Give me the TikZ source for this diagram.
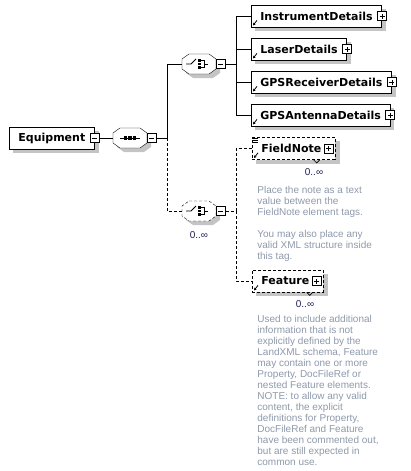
\documentclass[tikz,border=0pt]{standalone}
\usepackage{fontspec}
\setmainfont{Liberation Sans}
\newfontfamily\namefont{DejaVu Sans}
\usepackage{tikz}
\usetikzlibrary{positioning, calc, arrows.meta, backgrounds}
\usepackage{xcolor}
\definecolor{ShadowGray}{HTML}{C4C4C4}
\definecolor{NoteGray}{HTML}{8E99AA}
\definecolor{OccursNavy}{HTML}{1E1E5A}

\begin{document}
\begin{tikzpicture}[
  x=1pt, y=-1pt, line width=0.8pt,
  elem/.style={
    draw, fill=white, anchor=west, minimum height=22pt, inner xsep=9pt,
    font=\namefont\bfseries\fontsize{11}{13}\selectfont
  },
  optelem/.style={elem, dash pattern=on 3pt off 2pt, execute at end node={\hspace*{5pt}}},
  compo/.style={minimum width=34pt, minimum height=20pt, inner sep=0pt, outer sep=0pt},
  seqmark/.style={path picture={
    \begin{scope}[shift={(path picture bounding box.center)}, solid]
      \draw (-10,0) -- (10,0);
      \foreach \dx in {-4.5,0,4.5} \fill (\dx-1.7,-1.7) rectangle (\dx+1.7,1.7);
    \end{scope}}
  },
  choicemark/.style={path picture={
    \begin{scope}[shift={(path picture bounding box.center)}, solid]
      \draw (-13,0) -- (-8,0) -- (-3,-5);
      \foreach \dy in {-3.5,0,3.5} \fill (-1,\dy-1.3) rectangle (1.6,\dy+1.3);
      \draw (1.6,-3.5) -- (5,-3.5) -- (5,3.5) -- (1.6,3.5) (5,0) -- (9,0);
    \end{scope}}
  },
  xbox/.style={draw, fill=white, solid, minimum size=9pt, inner sep=0pt},
  minus/.style={xbox, path picture={
    \draw[line width=0.7pt] ([xshift=2pt]path picture bounding box.west) -- ([xshift=-2pt]path picture bounding box.east);}
  },
  plus/.style={xbox, path picture={
    \draw[line width=0.7pt] ([xshift=2pt]path picture bounding box.west) -- ([xshift=-2pt]path picture bounding box.east)
      ([yshift=2pt]path picture bounding box.south) -- ([yshift=-2pt]path picture bounding box.north);}
  },
  opt/.style={dash pattern=on 3pt off 2pt},
  refarrow/.style={-{Stealth[length=2.5pt, width=3pt]}, line width=0.8pt, solid},
  occurs/.style={font=\fontsize{10}{11}\selectfont, text=OccursNavy, inner sep=0pt},
  note/.style={font=\fontsize{10}{11}\selectfont, text=NoteGray, align=left, anchor=north west, inner sep=0pt}
]
  \useasboundingbox (0,0) rectangle (411,471);

  % Root and sequence
  \node[elem] (equip) at (9,138) {Equipment};
  \node[minus] (equip-x) at (equip.east) {};
  \node[compo, seqmark] (seq) at (130,138) {};
  \node[minus, right=0pt of seq] (seq-x) {};
  \coordinate (j1) at (167,138);

  % Choices
  \node[compo, choicemark] (ch1) at (199,64) {};
  \node[minus, right=0pt of ch1] (ch1-x) {};
  \coordinate (j2) at (236,64);
  \node[compo, choicemark] (ch2) at (199,211) {};
  \node[minus, right=0pt of ch2] (ch2-x) {};
  \node[occurs, below=10pt of ch2] (ch2-n) {0..∞};
  \coordinate (j3) at (236,211);

  % Child elements
  \node[elem] (instr) at (251,16) {InstrumentDetails};
  \node[elem] (laser) at (251,49) {LaserDetails};
  \node[elem] (gpsrx) at (251,82) {GPSReceiverDetails};
  \node[elem] (gpsant) at (251,115) {GPSAntennaDetails};
  \foreach \n in {instr,laser,gpsrx,gpsant}
    \node[plus] (\n-x) at (\n.east) {};

  \node[optelem] (fnote) at (252,148.5) {FieldNote};
  \node[plus, left=2pt of fnote.east] (fnote-x) {};
  \node[occurs] (fnote-n) at (314,172) {0..∞};
  \node[note] (fnote-doc) at (257,185.5) {Place the note as a text\\value between the\\FieldNote element tags.\\[11pt]You may also place any\\valid XML structure inside\\this tag.};

  \node[optelem] (feat) at (252,281) {Feature};
  \node[plus, left=2pt of feat.east] (feat-x) {};
  \node[occurs] (feat-n) at (305,304) {0..∞};
  \node[note] (feat-doc) at (257,314.5) {Used to include additional\\information that is not\\explicitly defined by the\\LandXML schema, Feature\\may contain one or more\\Property, DocFileRef or\\nested Feature elements.\\NOTE: to allow any valid\\content, the explicit\\definitions for Property,\\DocFileRef and Feature\\have been commented out,\\but are still expected in\\common use.};

  % Shadows and compositor outlines
  \begin{scope}[on background layer]
    \foreach \n in {equip,instr,laser,gpsrx,gpsant,fnote,feat}
      \fill[ShadowGray] ($(\n.north west)+(4,4)$) rectangle ($(\n.south east)+(4,4)$);
    \foreach \n in {seq,ch1,ch2}
      \fill[ShadowGray] ($(\n.north west)+(11,4)$) -- ($(\n.north east)+(-3,4)$) -- ($(\n.north east)+(4,9)$)
        -- ($(\n.south east)+(4,-1)$) -- ($(\n.south east)+(-3,4)$) -- ($(\n.south west)+(11,4)$)
        -- ($(\n.south west)+(4,-1)$) -- ($(\n.north west)+(4,9)$) -- cycle;
    \foreach \n/\s in {seq/solid,ch1/solid,ch2/opt}
      \draw[\s, fill=white] ($(\n.north west)+(7,0)$) -- ($(\n.north east)+(-7,0)$) -- ($(\n.north east)+(0,5)$)
        -- ($(\n.south east)+(0,-5)$) -- ($(\n.south east)+(-7,0)$) -- ($(\n.south west)+(7,0)$)
        -- ($(\n.south west)+(0,-5)$) -- ($(\n.north west)+(0,5)$) -- cycle;
  \end{scope}

  % Small marks on the elements
  \foreach \n in {instr,laser,gpsrx,gpsant,fnote,feat}
    \draw[refarrow] ([shift={(6pt,7pt)}]\n.south west) -- ([shift={(2pt,2pt)}]\n.south west);
  \foreach \dy in {1.5,3.5,5.5}
    \draw[line width=0.6pt] ($(fnote.north west)+(0.5,\dy)$) -- ++(5,0);
  \draw[line width=0.6pt] ([xshift=-22pt]fnote.south east) -- ++(3,3) -- ++(3,-3);
  \draw[line width=0.6pt] ([xshift=-17pt]feat.south east) -- ++(3,3) -- ++(3,-3);

  % Connectors
  \draw (equip-x) -- (seq);
  \draw (seq-x) -- (j1);
  \draw (j1) |- (ch1);
  \draw[opt] (j1) |- (ch2);
  \draw (ch1-x) -- (j2);
  \foreach \n in {instr,laser,gpsrx,gpsant}
    \draw (j2) |- (\n);
  \draw[opt] (ch2-x) -- (j3);
  \draw[opt] (j3) |- (fnote);
  \draw[opt] (j3) |- (feat);
\end{tikzpicture}
\end{document}
